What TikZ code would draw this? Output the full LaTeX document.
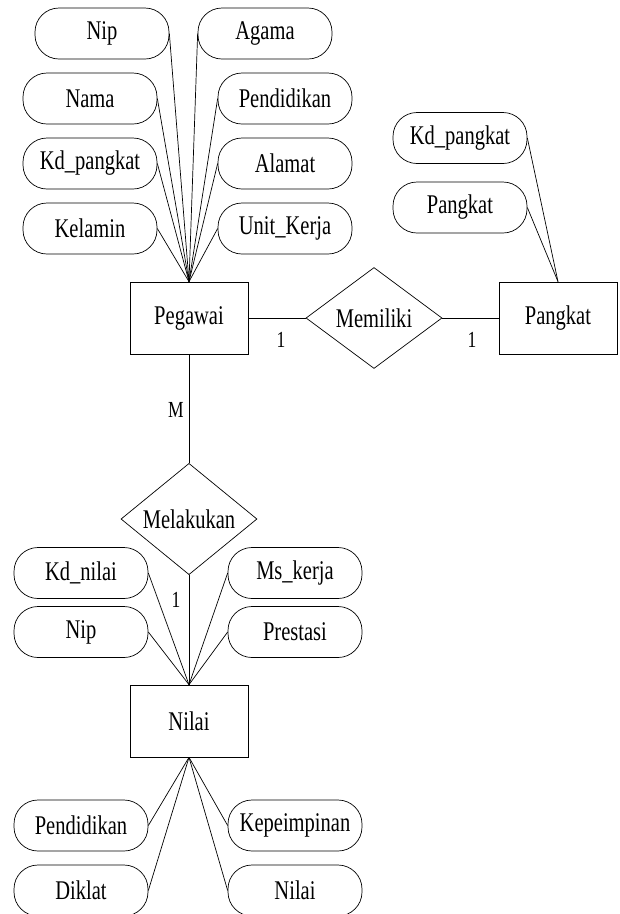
\documentclass[tikz,border=0pt]{standalone}
\usepackage{fontspec}
\setmainfont[FakeStretch=0.76]{Liberation Serif}
\usetikzlibrary{shapes.geometric, positioning}

\begin{document}
\begin{tikzpicture}[x=1pt, y=-1pt, line width=0.7pt,
  font=\fontsize{27}{31}\selectfont,
  entity/.style={draw, minimum width=118pt, minimum height=72pt},
  attrib/.style={draw, rounded corners=24pt, minimum width=134pt, minimum height=51pt, inner sep=0pt},
  relation/.style={draw, diamond, minimum width=136pt, minimum height=101pt, inner sep=0pt},
  card/.style={font=\fontsize{23}{27}\selectfont}]
\clip (0,0) rectangle (620,914);
% entities
\node[entity] (pegawai) at (189,318) {Pegawai};
\node[entity] (pangkat) at (558,318) {Pangkat};
\node[entity] (nilai) at (189,721) {Nilai};
% relations
\node[relation] (memiliki) at (374,318) {Memiliki};
\node[relation] (melakukan) at (189,519) {Melakukan};
\draw (pegawai.east) -- (memiliki.west);
\draw (memiliki.east) -- (pangkat.west);
\draw (pegawai.south) -- (melakukan.north);
\draw (melakukan.south) -- (nilai.north);
\node[card] (c1) at (281,340) {1};
\node[card] (c2) at (472,340) {1};
\node[card] (c3) at (176,410) {M};
\node[card] (c4) at (176,600) {1};
% attributes of pegawai
\foreach \n/\x/\y/\lab in {nip/102/33.5/Nip, nama/90/98.5/Nama, kdpangkat/90/163.5/Kd\_pangkat, kelamin/90/228.5/Kelamin} {
  \node[attrib] (\n) at (\x,\y) {\lab};
  \draw (\n.east) -- (pegawai.north);
}
\foreach \n/\x/\y/\lab in {agama/265/33.5/Agama, pendidikan/285/98.5/Pendidikan, alamat/285/163.5/Alamat, unitkerja/285/228.5/Unit\_Kerja} {
  \node[attrib] (\n) at (\x,\y) {\lab};
  \draw (\n.west) -- (pegawai.north);
}
% attributes of pangkat
\foreach \n/\y/\lab in {kdpangkatp/138/Kd\_pangkat, pangkatattr/207.5/Pangkat} {
  \node[attrib] (\n) at (460,\y) {\lab};
  \draw (\n.east) -- (pangkat.north);
}
% attributes of nilai
\foreach \n/\y/\lab in {kdnilai/573/Kd\_nilai, nipnilai/632/Nip} {
  \node[attrib] (\n) at (81,\y) {\lab};
  \draw (\n.east) -- (nilai.north);
}
\foreach \n/\y/\lab in {mskerja/573/Ms\_kerja, prestasi/632/Prestasi} {
  \node[attrib] (\n) at (295,\y) {\lab};
  \draw (\n.west) -- (nilai.north);
}
\foreach \n/\y/\lab in {pendidikann/825.5/Pendidikan, diklat/890.5/Diklat} {
  \node[attrib] (\n) at (81,\y) {\lab};
  \draw (\n.east) -- (nilai.south);
}
\foreach \n/\y/\lab in {kepemimpinan/825.5/Kepeimpinan, nilaiattr/890.5/Nilai} {
  \node[attrib] (\n) at (295,\y) {\lab};
  \draw (\n.west) -- (nilai.south);
}
\end{tikzpicture}
\end{document}
